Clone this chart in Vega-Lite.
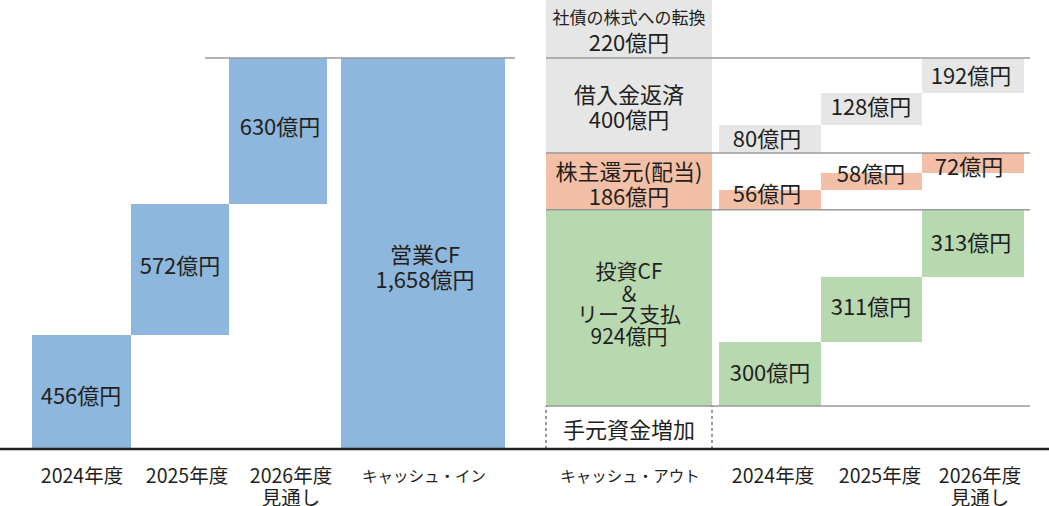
{
  "$schema": "https://vega.github.io/schema/vega-lite/v6.json",
  "width": 1049,
  "height": 506,
  "padding": 0,
  "autosize": "none",
  "background": "white",
  "config": {
    "view": {"stroke": null},
    "text": {"font": "Noto Sans CJK JP", "color": "#231f20"}
  },
  "datasets": {
    "bars": [
      {"col": "2024年度", "kind": "in", "x0": 32, "x1": 131, "y0": 0, "y1": 483},
      {"col": "2025年度", "kind": "in", "x0": 131, "x1": 229, "y0": 483, "y1": 1039},
      {"col": "2026年度", "kind": "in", "x0": 229, "x1": 327, "y0": 1039, "y1": 1658},
      {"col": "キャッシュ・イン", "kind": "in", "x0": 341, "x1": 505, "y0": 0, "y1": 1658},
      {"col": "キャッシュ・アウト", "kind": "convert", "x0": 546, "x1": 712, "y0": 1658, "y1": 1904},
      {"col": "キャッシュ・アウト", "kind": "debt", "x0": 546, "x1": 712, "y0": 1255, "y1": 1658},
      {"col": "キャッシュ・アウト", "kind": "dividend", "x0": 546, "x1": 712, "y0": 1014, "y1": 1255},
      {"col": "キャッシュ・アウト", "kind": "invest", "x0": 546, "x1": 712, "y0": 182, "y1": 1014},
      {"col": "2024年度 out", "kind": "debt", "x0": 719, "x1": 821, "y0": 1255, "y1": 1374},
      {"col": "2025年度 out", "kind": "debt", "x0": 821, "x1": 922, "y0": 1374, "y1": 1510},
      {"col": "2026年度 out", "kind": "debt", "x0": 922, "x1": 1024, "y0": 1510, "y1": 1654},
      {"col": "2024年度 out", "kind": "dividend", "x0": 719, "x1": 821, "y0": 1014, "y1": 1098},
      {"col": "2025年度 out", "kind": "dividend", "x0": 821, "x1": 922, "y0": 1098, "y1": 1170},
      {"col": "2026年度 out", "kind": "dividend", "x0": 922, "x1": 1024, "y0": 1170, "y1": 1255},
      {"col": "2024年度 out", "kind": "invest", "x0": 719, "x1": 821, "y0": 182, "y1": 454},
      {"col": "2025年度 out", "kind": "invest", "x0": 821, "x1": 922, "y0": 454, "y1": 729},
      {"col": "2026年度 out", "kind": "invest", "x0": 922, "x1": 1024, "y0": 729, "y1": 1014}
    ],
    "guides": [
      {"x0": 205, "x1": 515, "y": 1658},
      {"x0": 546, "x1": 1030, "y": 1658},
      {"x0": 546, "x1": 1030, "y": 1255},
      {"x0": 546, "x1": 1030, "y": 1014},
      {"x0": 546, "x1": 1030, "y": 182}
    ],
    "dashes": [
      {"x": 546, "y0": 0, "y1": 182},
      {"x": 712, "y0": 0, "y1": 182}
    ],
    "base": [{"x0": 0, "x1": 1049, "y": 0}],
    "labels": [
      {"grp": "value", "t": "456億円", "lx": 81, "ly": 222},
      {"grp": "value", "t": "572億円", "lx": 180, "ly": 772},
      {"grp": "value", "t": "630億円", "lx": 280, "ly": 1363},
      {"grp": "value", "t": ["営業CF", "1,658億円"], "lx": 425, "ly": 818},
      {"grp": "small", "t": "社債の株式への転換", "lx": 629, "ly": 1823},
      {"grp": "value", "t": "220億円", "lx": 629, "ly": 1717},
      {"grp": "value", "t": ["借入金返済", "400億円"], "lx": 629, "ly": 1497},
      {"grp": "value", "t": ["株主還元(配当)", "186億円"], "lx": 629, "ly": 1172},
      {"grp": "stack", "t": ["投資CF", "＆", "リース支払", "924億円"], "lx": 629, "ly": 746},
      {"grp": "value", "t": "手元資金増加", "lx": 629, "ly": 76},
      {"grp": "value", "t": "80億円", "lx": 767, "ly": 1310},
      {"grp": "value", "t": "128億円", "lx": 871, "ly": 1444},
      {"grp": "value", "t": "192億円", "lx": 971, "ly": 1577},
      {"grp": "value", "t": "56億円", "lx": 767, "ly": 1077},
      {"grp": "value", "t": "58億円", "lx": 871, "ly": 1162},
      {"grp": "value", "t": "72億円", "lx": 969, "ly": 1192},
      {"grp": "value", "t": "300億円", "lx": 770, "ly": 316},
      {"grp": "value", "t": "311億円", "lx": 871, "ly": 596},
      {"grp": "value", "t": "313億円", "lx": 971, "ly": 869},
      {"grp": "axis", "t": "2024年度", "lx": 82, "ly": -117},
      {"grp": "axis", "t": "2025年度", "lx": 187, "ly": -117},
      {"grp": "axis", "t": ["2026年度", "見通し"], "lx": 291, "ly": -117},
      {"grp": "kana", "t": "キャッシュ・イン", "lx": 424, "ly": -117},
      {"grp": "kana", "t": "キャッシュ・アウト", "lx": 630, "ly": -117},
      {"grp": "axis", "t": "2024年度", "lx": 773, "ly": -117},
      {"grp": "axis", "t": "2025年度", "lx": 880, "ly": -117},
      {"grp": "axis", "t": ["2026年度", "見通し"], "lx": 980, "ly": -117}
    ]
  },
  "layer": [
    {
      "data": {"name": "bars"},
      "mark": {"type": "rect"},
      "encoding": {
        "x": {"field": "x0", "type": "quantitative", "scale": {"domain": [0, 1049], "nice": false, "zero": false}, "axis": null},
        "x2": {"field": "x1"},
        "y": {"field": "y0", "type": "quantitative", "scale": {"domain": [-242, 1904], "nice": false, "zero": false}, "axis": null},
        "y2": {"field": "y1"},
        "color": {
          "field": "kind",
          "type": "nominal",
          "scale": {
            "domain": ["in", "convert", "debt", "dividend", "invest"],
            "range": ["#8db7dc", "#e6e6e6", "#e6e6e6", "#f3bfa6", "#b8d8b0"]
          },
          "legend": null
        }
      }
    },
    {
      "data": {"name": "guides"},
      "mark": {"type": "rule", "color": "#9a9a9a", "strokeWidth": 1.5},
      "encoding": {
        "x": {"field": "x0", "type": "quantitative", "scale": {"domain": [0, 1049], "nice": false, "zero": false}, "axis": null},
        "x2": {"field": "x1"},
        "y": {"field": "y", "type": "quantitative", "scale": {"domain": [-242, 1904], "nice": false, "zero": false}, "axis": null}
      }
    },
    {
      "data": {"name": "dashes"},
      "mark": {"type": "rule", "color": "#333333", "strokeWidth": 1, "strokeDash": [3, 3]},
      "encoding": {
        "x": {"field": "x", "type": "quantitative", "scale": {"domain": [0, 1049], "nice": false, "zero": false}, "axis": null},
        "y": {"field": "y0", "type": "quantitative", "scale": {"domain": [-242, 1904], "nice": false, "zero": false}, "axis": null},
        "y2": {"field": "y1"}
      }
    },
    {
      "data": {"name": "base"},
      "mark": {"type": "rule", "color": "#231f20", "strokeWidth": 2.5},
      "encoding": {
        "x": {"field": "x0", "type": "quantitative", "scale": {"domain": [0, 1049], "nice": false, "zero": false}, "axis": null},
        "x2": {"field": "x1"},
        "y": {"field": "y", "type": "quantitative", "scale": {"domain": [-242, 1904], "nice": false, "zero": false}, "axis": null}
      }
    },
    {
      "data": {"name": "labels"},
      "transform": [{"filter": "datum.grp == 'value'"}],
      "mark": {"type": "text", "fontSize": 22, "lineHeight": 25, "align": "center", "baseline": "middle"},
      "encoding": {
        "x": {"field": "lx", "type": "quantitative", "scale": {"domain": [0, 1049], "nice": false, "zero": false}, "axis": null},
        "y": {"field": "ly", "type": "quantitative", "scale": {"domain": [-242, 1904], "nice": false, "zero": false}, "axis": null},
        "text": {"field": "t"}
      }
    },
    {
      "data": {"name": "labels"},
      "transform": [{"filter": "datum.grp == 'small'"}],
      "mark": {"type": "text", "fontSize": 17, "align": "center", "baseline": "middle"},
      "encoding": {
        "x": {"field": "lx", "type": "quantitative", "scale": {"domain": [0, 1049], "nice": false, "zero": false}, "axis": null},
        "y": {"field": "ly", "type": "quantitative", "scale": {"domain": [-242, 1904], "nice": false, "zero": false}, "axis": null},
        "text": {"field": "t"}
      }
    },
    {
      "data": {"name": "labels"},
      "transform": [{"filter": "datum.grp == 'stack'"}],
      "mark": {"type": "text", "fontSize": 21, "lineHeight": 21.5, "align": "center", "baseline": "middle"},
      "encoding": {
        "x": {"field": "lx", "type": "quantitative", "scale": {"domain": [0, 1049], "nice": false, "zero": false}, "axis": null},
        "y": {"field": "ly", "type": "quantitative", "scale": {"domain": [-242, 1904], "nice": false, "zero": false}, "axis": null},
        "text": {"field": "t"}
      }
    },
    {
      "data": {"name": "labels"},
      "transform": [{"filter": "datum.grp == 'axis'"}],
      "mark": {"type": "text", "fontSize": 19.5, "lineHeight": 22, "align": "center", "baseline": "middle"},
      "encoding": {
        "x": {"field": "lx", "type": "quantitative", "scale": {"domain": [0, 1049], "nice": false, "zero": false}, "axis": null},
        "y": {"field": "ly", "type": "quantitative", "scale": {"domain": [-242, 1904], "nice": false, "zero": false}, "axis": null},
        "text": {"field": "t"}
      }
    },
    {
      "data": {"name": "labels"},
      "transform": [{"filter": "datum.grp == 'kana'"}],
      "mark": {"type": "text", "fontSize": 15.5, "align": "center", "baseline": "middle"},
      "encoding": {
        "x": {"field": "lx", "type": "quantitative", "scale": {"domain": [0, 1049], "nice": false, "zero": false}, "axis": null},
        "y": {"field": "ly", "type": "quantitative", "scale": {"domain": [-242, 1904], "nice": false, "zero": false}, "axis": null},
        "text": {"field": "t"}
      }
    }
  ]
}
